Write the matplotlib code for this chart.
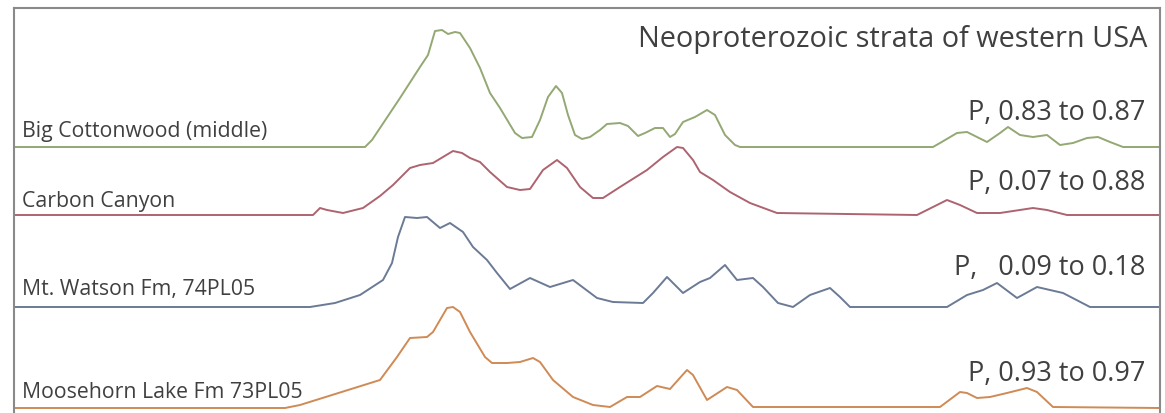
import numpy as np
import matplotlib
matplotlib.use("Agg")
from matplotlib import pyplot as plt

# Stacked probability-density curves, one per sample.
# x: position along the (unlabelled) age axis, h: relative probability height.
green_x = [0, 351, 358, 366, 386, 406, 414, 421, 428, 434, 441, 446, 456, 466, 476, 486, 501, 508, 518, 526,
           534, 542, 548, 554, 561, 568, 576, 586, 593, 606, 614, 624, 631, 641, 649, 656, 661, 669, 681, 693,
           701, 711, 721, 726, 919, 926, 943, 953, 973, 986, 994, 1006, 1019, 1033, 1046, 1059, 1073, 1084,
           1096, 1109, 1146]
green_h = [0, 0, 7, 19, 49, 80, 92, 116, 117, 113, 115, 114, 99, 79, 54, 39, 14, 9, 10, 27,
           50, 61, 54, 32, 12, 8, 10, 17, 23, 24, 21, 11, 14, 19, 19, 10, 13, 25, 30, 37,
           32, 12, 2, 0, 0, 4, 14, 15, 5, 14, 20, 12, 10, 12, 2, 4, 9, 10, 5, 0, 0]

red_x = [0, 299, 306, 313, 329, 349, 366, 379, 396, 406, 419, 429, 439, 448, 456, 466, 476, 493, 506, 516,
         529, 543, 553, 566, 579, 589, 606, 633, 649, 663, 669, 679, 686, 699, 716, 736, 763, 903, 919, 933,
         946, 963, 986, 1019, 1033, 1053, 1146]
red_h = [0, 0, 7, 5, 2, 7, 19, 30, 47, 50, 52, 58, 64, 62, 57, 53, 43, 28, 25, 26,
         45, 55, 47, 28, 17, 17, 28, 45, 58, 68, 67, 55, 43, 35, 23, 12, 2, 0, 8, 15,
         10, 2, 2, 7, 5, 0, 0]

blue_x = [0, 296, 321, 346, 369, 378, 384, 391, 403, 413, 426, 436, 449, 459, 473, 483, 496, 516, 536, 559,
          583, 599, 629, 639, 653, 669, 686, 696, 711, 723, 739, 749, 764, 779, 796, 816, 826, 836, 933, 953,
          969, 983, 1003, 1023, 1036, 1049, 1076, 1146]
blue_h = [0, 0, 4, 12, 27, 44, 70, 90, 89, 90, 79, 84, 75, 60, 47, 34, 18, 29, 20, 27,
          9, 5, 4, 14, 30, 14, 25, 29, 42, 27, 29, 20, 4, 0, 12, 19, 10, 0, 0, 12,
          17, 24, 9, 20, 17, 14, 0, 0]

orange_x = [0, 271, 286, 366, 383, 396, 413, 419, 433, 439, 446, 456, 471, 478, 493, 506, 519, 526, 539, 559,
            579, 596, 613, 626, 643, 656, 673, 679, 693, 713, 723, 739, 926, 946, 953, 963, 976, 993, 1013,
            1023, 1039, 1146]
orange_h = [0, 0, 3, 28, 51, 70, 71, 76, 100, 101, 96, 76, 51, 45, 45, 46, 50, 46, 28, 11,
            3, 1, 11, 11, 22, 19, 38, 33, 8, 21, 18, 1, 1, 16, 15, 10, 11, 15, 20, 16, 1, 0]

samples = ["Big Cottonwood (middle)", "Carbon Canyon", "Mt. Watson Fm, 74PL05", "Moosehorn Lake Fm 73PL05"]
p_labels = ["P, 0.83 to 0.87", "P, 0.07 to 0.88", "P,   0.09 to 0.18", "P, 0.93 to 0.97"]
offsets = [266, 198, 106, 5]
title = "Neoproterozoic strata of western USA"

series = [(green_x, green_h), (red_x, red_h), (blue_x, blue_h), (orange_x, orange_h)]
colors = ["#93a873", "#ad6470", "#6b7a95", "#cf8a55"]

plt.rcParams["font.family"] = ["Open Sans", "DejaVu Sans"]

fig = plt.figure(figsize=(11.65, 4.13), dpi=100)
ax = fig.add_axes([14 / 1165, 0, 1146 / 1165, 405 / 413])

label_y = [281, 211, 123, 21]
p_y = [300, 230, 145, 39]
for (xs, hs), off, col, name, pl, ly, py in zip(series, offsets, colors, samples, p_labels, label_y, p_y):
    ax.plot(xs, np.array(hs) + off, color=col, lw=1.4, solid_joinstyle="round")
    ax.text(8, ly, name, fontsize=15.3, color="#404040", ha="left", va="center")
    ax.text(1131, py, pl, fontsize=19.5, color="#404040", ha="right", va="center")

ax.text(1133, 373, title, fontsize=20.8, color="#404040", ha="right", va="center")

ax.set_xlim(0, 1146)
ax.set_ylim(0, 405)
ax.set_xticks([])
ax.set_yticks([])
for side in ["left", "top", "right"]:
    ax.spines[side].set_color("#8a8a8a")
    ax.spines[side].set_linewidth(1.5)
ax.spines["bottom"].set_visible(False)

fig.savefig("out.png", dpi=100)
